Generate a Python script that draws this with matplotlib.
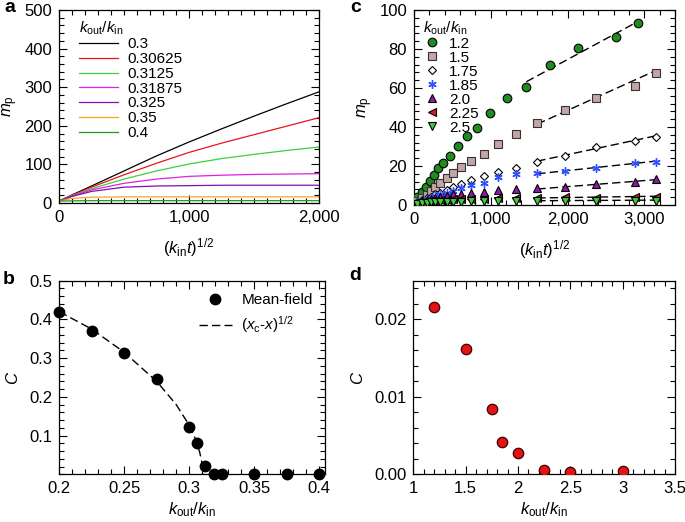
import matplotlib
matplotlib.use("Agg")
import matplotlib.pyplot as plt
from matplotlib.ticker import MultipleLocator, FuncFormatter
from matplotlib.lines import Line2D

plt.rcParams['font.family'] = ['Liberation Sans', 'DejaVu Sans']
plt.rcParams['mathtext.fontset'] = 'custom'
plt.rcParams['mathtext.rm'] = 'Liberation Sans'
plt.rcParams['mathtext.it'] = 'Liberation Sans:italic'
plt.rcParams['mathtext.bf'] = 'Liberation Sans:bold'
plt.rcParams['font.size'] = 12
plt.rcParams['xtick.labelsize'] = 12
plt.rcParams['ytick.labelsize'] = 12
plt.rcParams['axes.labelsize'] = 12
plt.rcParams['legend.fontsize'] = 11
plt.rcParams['legend.title_fontsize'] = 11

# ---------------- Panel a data ----------------
a_x = [0, 100, 250, 500, 750, 1000, 1250, 1500, 1750, 2000]
a_labels = ['0.3', '0.30625', '0.3125', '0.31875', '0.325', '0.35', '0.4']
a_y_03 = [5, 21, 44, 83, 122, 158, 192, 225, 257, 288]
a_y_030625 = [5, 20, 41, 73, 103, 131, 155, 177, 199, 221]
a_y_03125 = [5, 19, 37, 62, 83, 101, 115, 126, 136, 145]
a_y_031875 = [5, 18, 34, 51, 62, 69, 72, 74, 75, 76]
a_y_0325 = [5, 17, 30, 41, 44, 45, 46, 46, 46, 46]
a_y_035 = [5, 12, 15, 16, 16, 16, 16, 16, 16, 16]
a_y_04 = [5, 5.5, 6, 6, 6, 6, 6, 6, 6, 6]
a_colors = ['#000000', '#e8141c', '#3ad23a', '#e020e0', '#8010b0', '#f5a623', '#1a9a1a']

# ---------------- Panel b data ----------------
b_x = [0.2, 0.225, 0.25, 0.275, 0.3, 0.30625, 0.3125, 0.31875, 0.325, 0.35, 0.375, 0.4]
b_y = [0.42, 0.37, 0.313, 0.245, 0.123, 0.08, 0.021, 0.0, 0.0, 0.0, 0.0, 0.0]
b_fit_x = [0.2, 0.225, 0.25, 0.275, 0.29, 0.3, 0.305, 0.308, 0.3095, 0.3103]
b_fit_y = [0.42, 0.375, 0.315, 0.24, 0.18, 0.127, 0.09, 0.058, 0.035, 0.0]

# ---------------- Panel c data ----------------
c_labels = ['1.2', '1.5', '1.75', '1.85', '2.0', '2.25', '2.5']
c_x_12 = [5, 43, 100, 152, 208, 264, 316, 381, 470, 570, 684, 827, 996, 1212, 1463, 1766, 2134, 2632, 2913]
c_y_12 = [1.7, 4.3, 6.8, 9.4, 12.5, 15.4, 18.8, 21.4, 25.2, 30.2, 35.2, 39.3, 47.4, 54.7, 60.7, 71.8, 80.3, 86.3, 93.2]
c_x_rest = [35, 100, 165, 221, 273, 338, 424, 511, 615, 738, 911, 1095, 1329, 1606, 1961, 2373, 2879, 3152]
c_y_15 = [2.1, 3.4, 5.1, 7.3, 9.1, 11.1, 13.7, 16.2, 19.3, 22.6, 26.2, 31.2, 36.4, 41.9, 48.7, 54.7, 61.0, 67.8]
c_y_175 = [1.5, 2.5, 3.4, 4.3, 5.5, 6.3, 7.7, 9.1, 10.8, 12.8, 15.0, 16.8, 18.8, 22.2, 25.3, 29.9, 33.0, 35.0]
c_y_185 = [1.3, 2.2, 3.0, 3.8, 4.8, 5.6, 6.3, 7.3, 8.6, 10.3, 11.5, 14.5, 15.9, 16.2, 17.4, 19.1, 21.4, 22.2]
c_y_20 = [1.0, 1.8, 2.5, 3.2, 3.8, 4.3, 4.8, 5.5, 5.8, 6.3, 6.8, 7.6, 8.4, 8.6, 9.1, 10.6, 12.0, 13.3]
c_y_225 = [0.8, 1.2, 1.6, 2.0, 2.3, 2.6, 2.8, 3.0, 3.1, 3.2, 3.3, 3.4, 3.5, 3.5, 4.0, 3.8, 4.2, 4.3]
c_y_25 = [0.6, 0.9, 1.1, 1.3, 1.4, 1.5, 1.6, 1.7, 1.7, 1.8, 1.8, 1.9, 1.9, 1.9, 2.0, 2.1, 2.1, 2.2]
# dashed fit lines (start, end)
c_fit_x_12 = [1463, 2913]
c_fit_y_12 = [63.2, 94.0]
c_fit_x = [1606, 3152]
c_fit_y_15 = [41.5, 69.0]
c_fit_y_175 = [22.5, 35.5]
c_fit_y_185 = [16.0, 22.5]
c_fit_y_20 = [8.2, 13.0]
c_fit_y_225 = [3.6, 4.5]
c_fit_y_25 = [2.2, 2.5]

# ---------------- Panel d data ----------------
d_x = [1.2, 1.5, 1.75, 1.85, 2.0, 2.25, 2.5, 3.0]
d_y = [0.0216, 0.0162, 0.0084, 0.0042, 0.0028, 0.0005, 0.0003, 0.0004]
d_err = [0, 0, 0, 0, 0, 0.0004, 0.0004, 0.0004]

W, H = 685, 522
fig = plt.figure(figsize=(W / 100, H / 100), dpi=100)


def add_ax(l, r, t, b):
    return fig.add_axes([l / W, 1 - b / H, (r - l) / W, (b - t) / H])


def style(ax):
    ax.tick_params(which='both', direction='in', top=True, right=True, width=0.8)
    ax.tick_params(which='major', length=6, pad=5)
    ax.tick_params(which='minor', length=3.5)
    for s in ax.spines.values():
        s.set_linewidth(0.9)


comma = FuncFormatter(lambda v, p: '{:,.0f}'.format(v))
klab = r'$k_{\mathrm{out}}/k_{\mathrm{in}}$'

# ---- a ----
ax = add_ax(59, 319, 10, 203)
a_series = [a_y_03, a_y_030625, a_y_03125, a_y_031875, a_y_0325, a_y_035, a_y_04]
for ys, lab, col in zip(a_series, a_labels, a_colors):
    ax.plot(a_x, ys, color=col, lw=0.9, label=lab)
ax.set_xlim(0, 2000)
ax.set_ylim(0, 500)
ax.xaxis.set_major_locator(MultipleLocator(1000))
ax.xaxis.set_minor_locator(MultipleLocator(100))
ax.yaxis.set_major_locator(MultipleLocator(100))
ax.yaxis.set_minor_locator(MultipleLocator(20))
ax.xaxis.set_major_formatter(comma)
style(ax)
ax.set_xlabel(r'$(k_{\mathrm{in}}t)^{1/2}$', labelpad=8)
ax.set_ylabel(r'$m_{\mathrm{p}}$', labelpad=3)
leg = ax.legend(loc='upper left', bbox_to_anchor=(0.04, 1.0), frameon=False,
                title=klab, handlelength=2.6, handletextpad=0.6,
                labelspacing=0.05, borderaxespad=0.2)
leg._legend_box.align = 'left'
fig.text(4 / W, 1 - 8 / H, 'a', fontsize=14, fontweight='bold', va='center', ha='left')

# ---- c ----
ax = add_ax(414, 675, 10, 205)
c_styles = [
    dict(marker='o', mfc='#1e8c1e', mec='black', ms=6.2),
    dict(marker='s', mfc='#c4a4a4', mec='#333333', ms=5.2),
    dict(marker='D', mfc='white', mec='black', ms=4.3),
    dict(marker=(6, 2, 0), mfc='#3050ff', mec='#3050ff', ms=6, mew=1.0),
    dict(marker='^', mfc='#8a1aa8', mec='black', ms=6),
    dict(marker='<', mfc='#d81e1e', mec='black', ms=6),
    dict(marker='v', mfc='#3ccc3c', mec='black', ms=6),
]
c_series = [(c_x_12, c_y_12), (c_x_rest, c_y_15), (c_x_rest, c_y_175), (c_x_rest, c_y_185),
            (c_x_rest, c_y_20), (c_x_rest, c_y_225), (c_x_rest, c_y_25)]
c_fits = [(c_fit_x_12, c_fit_y_12), (c_fit_x, c_fit_y_15), (c_fit_x, c_fit_y_175),
          (c_fit_x, c_fit_y_185), (c_fit_x, c_fit_y_20), (c_fit_x, c_fit_y_225),
          (c_fit_x, c_fit_y_25)]
for (fx, fy) in c_fits:
    ax.plot(fx, fy, color='black', lw=1.0, ls=(0, (6, 3)), zorder=2)
handles = []
for (xs, ys), st, lab in zip(c_series, c_styles, c_labels):
    kw = dict(st)
    kw.setdefault('mew', 0.8)
    ax.plot(xs, ys, ls='none', zorder=3, **kw)
    handles.append(Line2D([], [], ls='none', label=lab, **kw))
ax.set_xlim(0, 3400)
ax.set_ylim(0, 100)
ax.xaxis.set_major_locator(MultipleLocator(1000))
ax.xaxis.set_minor_locator(MultipleLocator(200))
ax.yaxis.set_major_locator(MultipleLocator(20))
ax.yaxis.set_minor_locator(MultipleLocator(4))
ax.xaxis.set_major_formatter(comma)
style(ax)
ax.set_xlabel(r'$(k_{\mathrm{in}}t)^{1/2}$', labelpad=8)
ax.set_ylabel(r'$m_{\mathrm{p}}$', labelpad=3)
leg = ax.legend(handles=handles, loc='upper left', bbox_to_anchor=(0.0, 1.0), frameon=False,
                title=klab, handlelength=1.2, handletextpad=0.5,
                labelspacing=0.0, borderaxespad=0.2)
leg._legend_box.align = 'left'
fig.text(350 / W, 1 - 8 / H, 'c', fontsize=14, fontweight='bold', va='center', ha='left')

# ---- b ----
ax = add_ax(59.3, 325, 280.7, 474.4)
ax.plot(b_fit_x, b_fit_y, color='black', lw=1.0, ls=(0, (6, 3)), label=r'$(x_{\mathrm{c}}$-$x)^{1/2}$', zorder=2)
ax.plot(b_x, b_y, ls='none', marker='o', mfc='black', mec='black', ms=7.5,
        label='Mean-field', zorder=3, clip_on=False)
ax.set_xlim(0.2, 0.4045)
ax.set_ylim(0, 0.5)
ax.set_xticks([0.2, 0.25, 0.3, 0.35, 0.4])
ax.set_xticklabels(['0.2', '0.25', '0.3', '0.35', '0.4'])
ax.set_yticks([0.1, 0.2, 0.3, 0.4, 0.5])
ax.set_yticklabels(['0.1', '0.2', '0.3', '0.4', '0.5'])
ax.xaxis.set_minor_locator(MultipleLocator(0.01))
ax.yaxis.set_minor_locator(MultipleLocator(0.02))
style(ax)
ax.set_xlabel(klab, labelpad=3)
ax.set_ylabel(r'$C$', labelpad=6)
h, l = ax.get_legend_handles_labels()
ax.legend([h[1], h[0]], [l[1], l[0]], loc='upper right', frameon=False,
          handlelength=2.2, handletextpad=0.6, labelspacing=0.5, borderaxespad=0.4)
fig.text(3 / W, 1 - 279 / H, 'b', fontsize=14, fontweight='bold', va='center', ha='left')

# ---- d ----
ax = add_ax(413.3, 675, 280.7, 474.3)
ax.errorbar(d_x, d_y, yerr=d_err, fmt='o', mfc='#e41212', mec='#3a0000', ms=7.5,
            mew=0.9, ecolor='black', elinewidth=0.8, capsize=0, zorder=3)
ax.set_xlim(1, 3.5)
ax.set_ylim(0, 0.025)
ax.set_xticks([1, 1.5, 2, 2.5, 3, 3.5])
ax.set_xticklabels(['1', '1.5', '2', '2.5', '3', '3.5'])
ax.set_yticks([0, 0.01, 0.02])
ax.set_yticklabels(['0.00', '0.01', '0.02'])
ax.xaxis.set_minor_locator(MultipleLocator(0.1))
ax.yaxis.set_minor_locator(MultipleLocator(0.002))
style(ax)
ax.set_xlabel(klab, labelpad=3)
ax.set_ylabel(r'$C$', labelpad=6)
fig.text(349 / W, 1 - 276 / H, 'd', fontsize=14, fontweight='bold', va='center', ha='left')

fig.savefig('out.png', dpi=100)
